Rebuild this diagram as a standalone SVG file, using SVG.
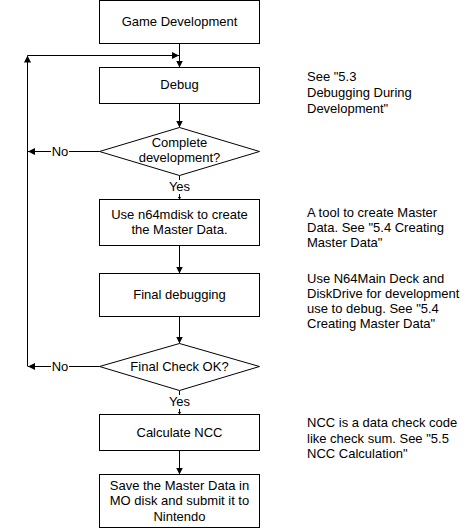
<svg xmlns="http://www.w3.org/2000/svg" width="471" height="529" viewBox="0 0 471 529">
<style>
  .box { fill: #fff; stroke: #000; stroke-width: 1; }
  .ln { fill: none; stroke: #000; stroke-width: 1; }
  text { font-family: "Liberation Sans", Arial, sans-serif; font-size: 13px; fill: #000; }
  .c { text-anchor: middle; }
  .bg { fill: #fff; }
</style>
<defs>
  <marker id="ah" markerUnits="userSpaceOnUse" markerWidth="8" markerHeight="8" refX="7" refY="3.5" orient="auto">
    <path d="M0,0 L7,3.5 L0,7 z" fill="#000"/>
  </marker>
  <marker id="ahs" markerUnits="userSpaceOnUse" markerWidth="5" markerHeight="5" refX="3" refY="2" orient="auto">
    <path d="M0,0 L3,2 L0,4 z" fill="#000"/>
  </marker>
</defs>
<rect width="471" height="529" fill="#fff"/>

<g id="connectors">
  <line class="ln" x1="179.5" y1="43.5" x2="179.5" y2="67.5" marker-end="url(#ah)"/>
  <line class="ln" x1="27.5" y1="55.5" x2="179" y2="55.5" marker-end="url(#ah)"/>
  <line class="ln" x1="27.5" y1="366.5" x2="27.5" y2="55.5" marker-end="url(#ah)"/>
  <line class="ln" x1="179.5" y1="103.5" x2="179.5" y2="127.5" marker-end="url(#ah)"/>
  <line class="ln" x1="99.5" y1="151.5" x2="28" y2="151.5" marker-end="url(#ah)"/>
  <rect class="bg" x="51" y="144" width="18" height="14"/>
  <text x="60" y="156" class="c">No</text>
  <line class="ln" x1="179.5" y1="175.5" x2="179.5" y2="199.5" marker-end="url(#ahs)"/>
  <rect class="bg" x="169" y="180" width="21" height="14"/>
  <text x="179.5" y="191" class="c">Yes</text>
  <line class="ln" x1="179.5" y1="245.5" x2="179.5" y2="273.5" marker-end="url(#ah)"/>
  <line class="ln" x1="179.5" y1="316.5" x2="179.5" y2="343.5" marker-end="url(#ah)"/>
  <line class="ln" x1="99.5" y1="366.5" x2="28" y2="366.5" marker-end="url(#ah)"/>
  <rect class="bg" x="51" y="359" width="18" height="14"/>
  <text x="60" y="371" class="c">No</text>
  <line class="ln" x1="179.5" y1="390.5" x2="179.5" y2="414.5" marker-end="url(#ahs)"/>
  <rect class="bg" x="169" y="395" width="21" height="14"/>
  <text x="179.5" y="406" class="c">Yes</text>
  <line class="ln" x1="179.5" y1="450.5" x2="179.5" y2="474.5" marker-end="url(#ah)"/>
</g>

<g id="n1">
  <rect class="box" x="99.5" y="0.5" width="160" height="43"/>
  <text x="179.5" y="26" class="c">Game Development</text>
</g>
<g id="n2">
  <rect class="box" x="99.5" y="67.5" width="160" height="36"/>
  <text x="179.5" y="89" class="c">Debug</text>
</g>
<g id="n3">
  <polygon class="box" points="179.5,127.5 259.5,151.5 179.5,175.5 99.5,151.5"/>
  <text x="179.5" y="147" class="c">Complete</text>
  <text x="179.5" y="162" class="c">development?</text>
</g>
<g id="n4">
  <rect class="box" x="99.5" y="199.5" width="160" height="46"/>
  <text x="179.5" y="219" class="c">Use n64mdisk to create</text>
  <text x="179.5" y="234" class="c">the Master Data.</text>
</g>
<g id="n5">
  <rect class="box" x="99.5" y="273.5" width="160" height="43"/>
  <text x="179.5" y="299" class="c">Final debugging</text>
</g>
<g id="n6">
  <polygon class="box" points="179.5,343.5 259.5,366.5 179.5,390.5 99.5,366.5"/>
  <text x="179.5" y="371" class="c">Final Check OK?</text>
</g>
<g id="n7">
  <rect class="box" x="99.5" y="414.5" width="160" height="36"/>
  <text x="179.5" y="437" class="c">Calculate NCC</text>
</g>
<g id="n8">
  <rect class="box" x="99.5" y="474.5" width="160" height="53"/>
  <text x="179.5" y="490" class="c">Save the Master Data in</text>
  <text x="179.5" y="505" class="c">MO disk and submit it to</text>
  <text x="179.5" y="521" class="c">Nintendo</text>
</g>

<g id="notes">
  <text x="307" y="81">See "5.3</text>
  <text x="307" y="97">Debugging During</text>
  <text x="307" y="113">Development"</text>
  <text x="307" y="217">A tool to create Master</text>
  <text x="307" y="232">Data. See "5.4 Creating</text>
  <text x="307" y="247">Master Data"</text>
  <text x="307" y="283">Use N64Main Deck and</text>
  <text x="307" y="298">DiskDrive for development</text>
  <text x="307" y="313">use to debug. See "5.4</text>
  <text x="307" y="328">Creating Master Data"</text>
  <text x="307" y="427">NCC is a data check code</text>
  <text x="307" y="443">like check sum. See "5.5</text>
  <text x="307" y="458">NCC Calculation"</text>
</g>
</svg>
